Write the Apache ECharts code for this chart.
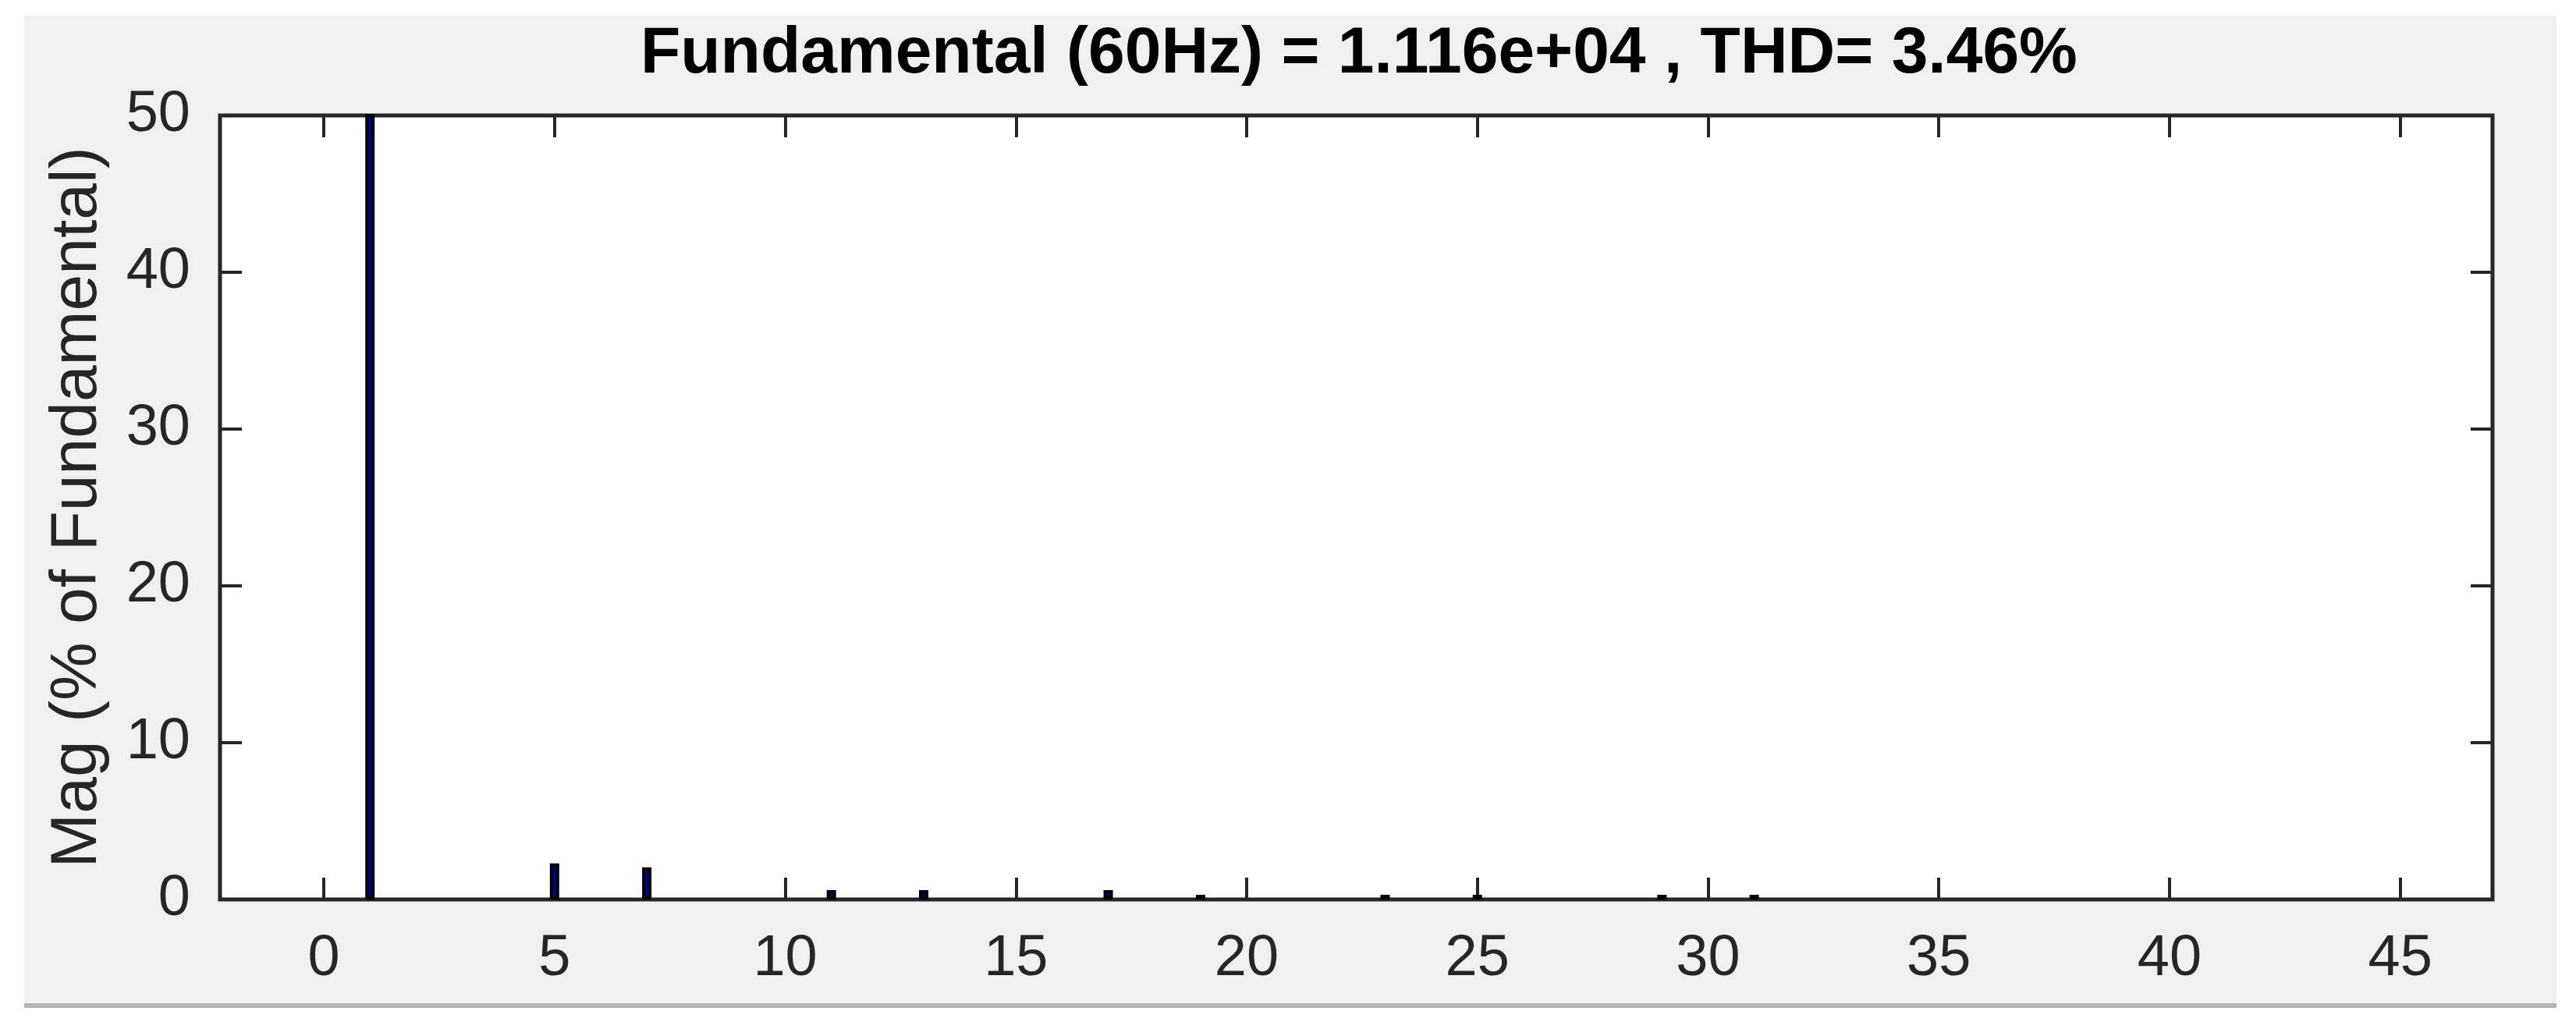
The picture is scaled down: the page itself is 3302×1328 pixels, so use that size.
<!DOCTYPE html>
<html>
<head>
<meta charset="utf-8">
<title>FFT analysis</title>
<script src="https://cdn.jsdelivr.net/npm/echarts@6/dist/echarts.min.js"></script>
<style>
    html, body { margin: 0; padding: 0; background: #ffffff; }
    #chart { width: 3302px; height: 1328px; }
</style>
</head>
<body>
<div id="chart"></div>
<script>
// harmonic order and magnitude (% of fundamental)
const harmonicOrder = [1, 5, 7, 11, 13, 17, 19, 23, 25, 29, 31];
const magPercent = [100, 2.3, 2.05, 0.6, 0.6, 0.6, 0.3, 0.3, 0.3, 0.3, 0.3];

const xTicks = [0, 5, 10, 15, 20, 25, 30, 35, 40, 45];
const titleText = 'Fundamental (60Hz) = 1.116e+04 , THD= 3.46%';
const yName = 'Mag (% of Fundamental)';

const fontFamily = '"Liberation Sans", Arial, sans-serif';
const axisColor = '#262626';

let chart = echarts.init(document.getElementById('chart'), null, {renderer: 'canvas'});

// matlab style: ticks pointing into the box on all four sides
function boxTicks(values) {
    let t = {
        inside: true,
        length: 28,
        lineStyle: {color: axisColor, width: 4}
    };
    if (values) t.customValues = values;
    return t;
}

let option = {
    animation: false,
    backgroundColor: 'transparent',
    title: {
        text: titleText,
        left: 821,
        top: 28,
        padding: 0,
        textStyle: {
            fontFamily: fontFamily,
            fontSize: 84,
            fontWeight: 'bold',
            color: '#000000'
        }
    },
    graphic: [
        {   // grey figure panel
            type: 'rect',
            z: -100,
            shape: {x: 31, y: 20, width: 3246, height: 1266},
            style: {fill: '#f0f0f0'}
        },
        {   // bottom shadow line of the window
            type: 'rect',
            z: -100,
            shape: {x: 31, y: 1286, width: 3246, height: 6},
            style: {fill: '#b4b4b4'}
        }
    ],
    grid: {
        left: 282,
        right: 107,
        top: 148,
        bottom: 175,
        show: true,
        backgroundColor: '#ffffff',
        borderColor: axisColor,
        borderWidth: 5
    },
    xAxis: [
        {
            type: 'value',
            position: 'bottom',
            min: -2.25,
            max: 47,
            axisLine: {show: false, onZero: false},
            splitLine: {show: false},
            axisTick: boxTicks(xTicks),
            axisLabel: {
                customValues: xTicks,
                margin: 40,
                fontFamily: fontFamily,
                fontSize: 74,
                color: axisColor
            }
        },
        {
            type: 'value',
            position: 'top',
            min: -2.25,
            max: 47,
            axisLine: {show: false, onZero: false},
            splitLine: {show: false},
            axisTick: boxTicks(xTicks),
            axisLabel: {show: false, customValues: xTicks}
        }
    ],
    yAxis: [
        {
            type: 'value',
            position: 'left',
            min: 0,
            max: 50,
            interval: 10,
            name: yName,
            nameLocation: 'middle',
            nameGap: 140,
            nameRotate: 90,
            nameTextStyle: {
                fontFamily: fontFamily,
                fontSize: 84,
                color: axisColor
            },
            axisLine: {show: false, onZero: false},
            splitLine: {show: false},
            axisTick: boxTicks(),
            axisLabel: {
                margin: 38,
                fontFamily: fontFamily,
                fontSize: 74,
                color: axisColor
            }
        },
        {
            type: 'value',
            position: 'right',
            min: 0,
            max: 50,
            interval: 10,
            axisLine: {show: false, onZero: false},
            splitLine: {show: false},
            axisTick: boxTicks(),
            axisLabel: {show: false}
        }
    ],
    series: [
        {
            type: 'bar',
            xAxisIndex: 0,
            yAxisIndex: 0,
            clip: true,
            barWidth: 12,
            itemStyle: {
                color: '#000090',
                borderColor: '#000000',
                borderWidth: 4
            },
            data: harmonicOrder.map((h, i) => [h, magPercent[i]])
        }
    ]
};

chart.setOption(option);
</script>
</body>
</html>
